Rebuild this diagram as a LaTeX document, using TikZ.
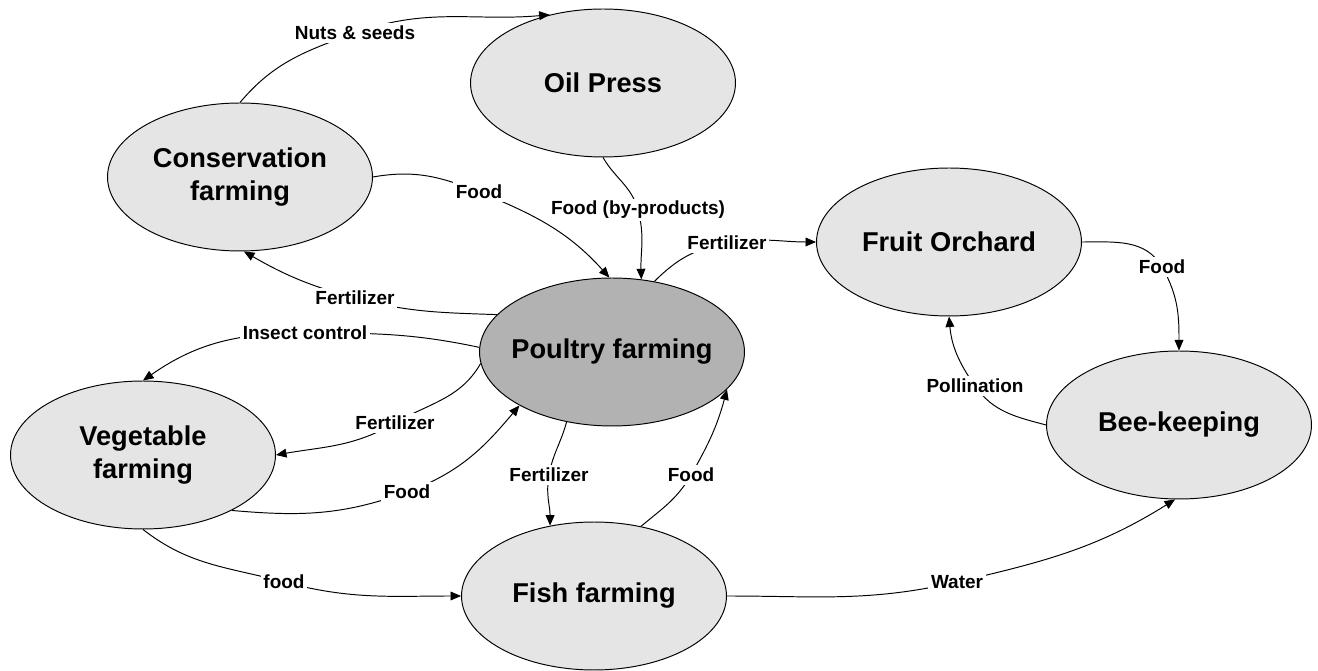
\documentclass[tikz,border=0pt]{standalone}
\usepackage{fontspec}
\setmainfont{Liberation Sans}
\usetikzlibrary{shapes.geometric,arrows.meta}

\begin{document}
\begin{tikzpicture}[x=0.02cm,y=0.02cm,
        farm/.style={ellipse,draw,line width=0.55pt,fill=gray!20,minimum width=5.3cm,minimum height=2.96cm,inner xsep=-12pt,inner ysep=0pt,align=center,font=\fontsize{15.5}{18.8}\selectfont\bfseries},
        flow/.style={-{Triangle[length=6pt,width=5pt]},line width=0.55pt},
        lbl/.style={fill=white,inner sep=1.5pt,font=\fontsize{10.8}{12}\selectfont\bfseries}]
        \useasboundingbox (0,0) rectangle (1318,-671);
        % farms
        \node[farm](cons) at (240,-177) {Conservation\\farming};
        \node[farm](oil) at (603,-83) {Oil Press};
        \node[farm,fill=gray!60](poul) at (612,-352) {Poultry farming};
        \node[farm](fruit) at (949,-242) {Fruit Orchard};
        \node[farm](veg) at (143,-455) {Vegetable\\farming};
        \node[farm](fish) at (594,-596) {Fish farming};
        \node[farm](bee) at (1179,-425) {Bee-keeping};
        % where the labels sit
        \coordinate(nuts) at (355,-33);
        \coordinate(consfood) at (479,-192);
        \coordinate(byprod) at (638,-210);
        \coordinate(fertfruit) at (727,-243);
        \coordinate(beefood) at (1162,-267);
        \coordinate(pollin) at (975,-386);
        \coordinate(fertcons) at (355,-298);
        \coordinate(insect) at (305,-333);
        \coordinate(fertveg) at (395,-423);
        \coordinate(vegfood) at (407,-492);
        \coordinate(fertfish) at (549,-475);
        \coordinate(fishfood) at (691,-475);
        \coordinate(vegfish) at (284,-582);
        \coordinate(water) at (957,-582);
        % flows
        \draw[flow] (cons.north) to[out=50,in=200] (nuts) to[out=20,in=185] (oil.128);
        \draw[flow] (cons.east) to[out=10,in=158] (consfood) to[out=-22,in=132] (poul.92);
        \draw[flow] (oil.south) to[out=-60,in=105] (byprod) to[out=-75,in=92] (poul.68);
        \draw[flow] (poul.59) to[out=45,in=190] (fertfruit) to[out=10,in=180] (fruit.west);
        \draw[flow] (fruit.east) to[out=0,in=120] (beefood) to[out=-60,in=90] (bee.north);
        \draw[flow] (bee.west) to[out=165,in=-55] (pollin) to[out=125,in=-85] (fruit.south);
        \draw[flow] (poul.162) to[out=178,in=-15] (fertcons) to[out=165,in=-30] (cons.-87);
        \draw[flow] (poul.178) to[out=168,in=0] (insect) to[out=180,in=35] (veg.north);
        \draw[flow] (poul.185) to[out=240,in=30] (fertveg) to[out=210,in=10] (veg.east);
        \draw[flow] (veg.-32) to[out=-5,in=200] (vegfood) to[out=20,in=-130] (poul.210);
        \draw[flow] (poul.237) to[out=255,in=80] (fertfish) to[out=260,in=90] (fish.122);
        \draw[flow] (fish.56) to[out=40,in=240] (fishfood) to[out=60,in=-105] (poul.-18);
        \draw[flow] (veg.south) to[out=-38,in=165] (vegfish) to[out=-15,in=180] (fish.west);
        \draw[flow] (fish.east) to[out=0,in=193] (water) to[out=13,in=-148] (bee.-93);
        % labels
        \node[lbl](t1) at (nuts) {Nuts \& seeds};
        \node[lbl](t2) at (consfood) {Food};
        \node[lbl](t3) at (byprod) {Food (by-products)};
        \node[lbl](t4) at (fertfruit) {Fertilizer};
        \node[lbl](t5) at (beefood) {Food};
        \node[lbl](t6) at (pollin) {Pollination};
        \node[lbl](t7) at (fertcons) {Fertilizer};
        \node[lbl](t8) at (insect) {Insect control};
        \node[lbl](t9) at (fertveg) {Fertilizer};
        \node[lbl](t10) at (vegfood) {Food};
        \node[lbl](t11) at (fertfish) {Fertilizer};
        \node[lbl](t12) at (fishfood) {Food};
        \node[lbl](t13) at (vegfish) {food};
        \node[lbl](t14) at (water) {Water};
\end{tikzpicture}
\end{document}
